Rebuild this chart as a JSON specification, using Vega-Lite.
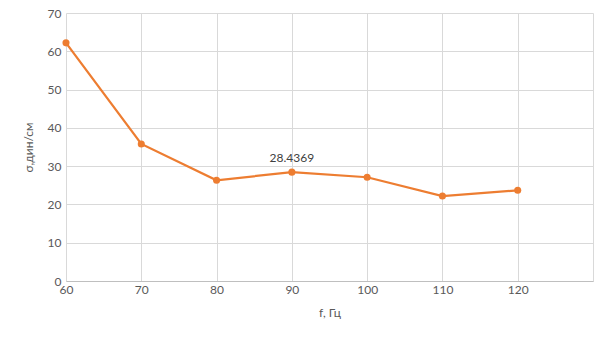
{
  "$schema": "https://vega.github.io/schema/vega-lite/v6.json",
  "width": 527,
  "height": 268,
  "padding": {"left": 66, "top": 13, "right": 12, "bottom": 59},
  "autosize": {"type": "none"},
  "background": "white",
  "config": {
    "font": "Lato",
    "view": {"stroke": null},
    "axis": {"labelFont": "Lato", "titleFont": "Lato", "labelColor": "#595959", "titleColor": "#595959", "labelFontSize": 12, "titleFontSize": 12, "titleFontWeight": "normal", "gridColor": "#d9d9d9", "ticks": false, "labelFlush": false}
  },
  "data": {"values": [
    {"f": 60, "sigma": 62.2, "label": ""},
    {"f": 70, "sigma": 35.8, "label": ""},
    {"f": 80, "sigma": 26.3, "label": ""},
    {"f": 90, "sigma": 28.4369, "label": "28.4369"},
    {"f": 100, "sigma": 27.1, "label": ""},
    {"f": 110, "sigma": 22.2, "label": ""},
    {"f": 120, "sigma": 23.7, "label": ""}
  ]},
  "encoding": {
    "x": {"field": "f", "type": "quantitative", "scale": {"domain": [60, 130], "nice": false, "zero": false},
      "axis": {"title": "f, Гц", "values": [60, 70, 80, 90, 100, 110, 120, 130], "labelExpr": "datum.value == 130 ? '' : datum.label", "domainColor": "#bfbfbf", "labelPadding": 3, "titlePadding": 12}},
    "y": {"field": "sigma", "type": "quantitative", "scale": {"domain": [0, 70], "nice": false},
      "axis": {"title": "σ,дин/см", "values": [0, 10, 20, 30, 40, 50, 60, 70], "domain": false, "labelPadding": 5, "titlePadding": 12}}
  },
  "layer": [
    {"mark": {"type": "line", "color": "#ED7D31", "strokeWidth": 2.25}},
    {"mark": {"type": "point", "filled": true, "color": "#ED7D31", "size": 50, "opacity": 1}},
    {"mark": {"type": "text", "dy": -14, "fontSize": 12, "color": "#404040", "font": "Lato"}, "encoding": {"text": {"field": "label"}}}
  ]
}
